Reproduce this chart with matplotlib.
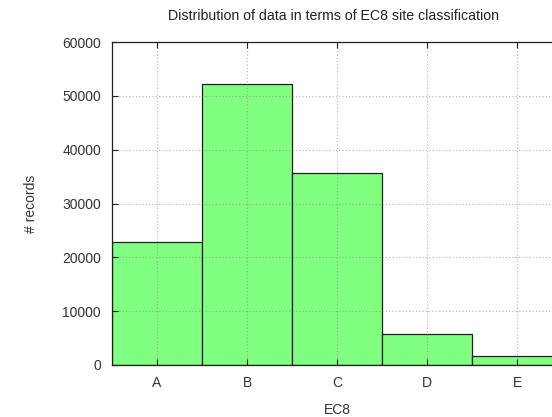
import matplotlib
matplotlib.use("Agg")
import matplotlib.pyplot as plt

# records per EC8 site class
classes = ["A", "B", "C", "D", "E"]
counts = [22850, 52200, 35650, 5750, 1700]

plt.rcParams['font.family'] = ['Liberation Sans', 'DejaVu Sans']

fig = plt.figure(figsize=(5.52, 4.17), dpi=100)
# the right edge of the frame runs past the figure edge
ax = fig.add_axes([112 / 552, 52 / 417, 450 / 552, 323 / 417])

x = range(len(classes))
ax.bar(x, counts, width=1.0, color="#80ff80", edgecolor="#202020", linewidth=0.9, zorder=1)

ax.set_xlim(-0.5, 4.5)
ax.set_ylim(0, 60000)
ax.set_xticks(list(x))
ax.set_xticklabels(classes)
ax.set_yticks(range(0, 60001, 10000))

ax.grid(True, color="#808080", linestyle=(0, (1, 2)), linewidth=0.8, alpha=0.6, zorder=2)
ax.set_axisbelow(False)
for s in ax.spines.values():
    s.set_linewidth(0.9)
    s.set_color("#202020")
    s.set_zorder(3)

ax.tick_params(direction="in", length=4, width=0.8, top=True, right=True,
               labelsize=10, colors="#202020", labelcolor="#333333", pad=8)

ax.set_xlabel("EC8", fontsize=10, color="#333333", labelpad=9)
ax.set_ylabel("# records", fontsize=10, color="#333333", labelpad=17)
fig.text(0.5 * (112 + 556) / 552, 1 - 16 / 417, "Distribution of data in terms of EC8 site classification",
         ha="center", va="center", fontsize=10.2, color="#222222")

fig.savefig("out.png", dpi=100)
